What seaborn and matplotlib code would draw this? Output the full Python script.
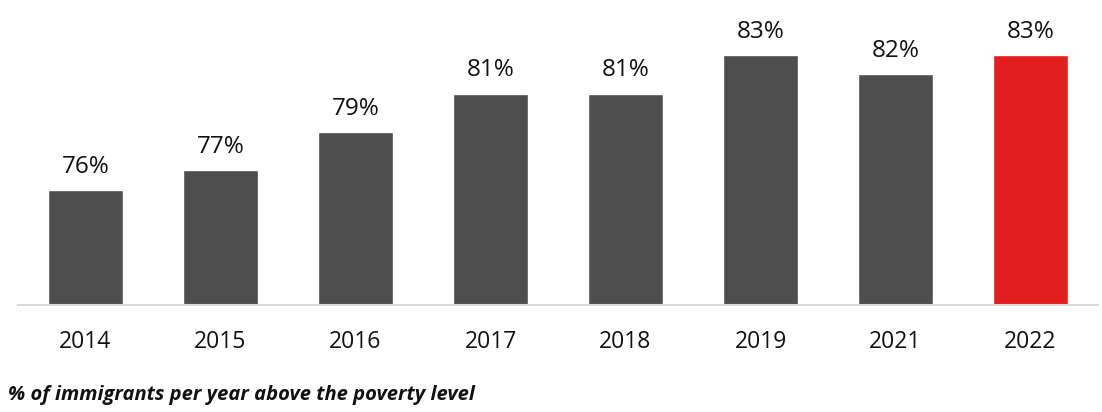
import matplotlib
matplotlib.use("Agg")
import matplotlib.pyplot as plt
import seaborn as sns
import pandas as pd

years = ["2014", "2015", "2016", "2017", "2018", "2019", "2021", "2022"]
values = [76, 77, 79, 81, 81, 83, 82, 83]
colors = ["#4d4d4d"] * 7 + ["#e31e1e"]
caption = "% of immigrants per year above the poverty level"

sns.set_theme(style="white")
plt.rcParams["font.family"] = ["Open Sans", "DejaVu Sans"]

df = pd.DataFrame({"year": years, "value": values})

fig = plt.figure(figsize=(11.02, 4.12), dpi=100)
ax = fig.add_axes([18 / 1102, 1 - 305 / 412, 1080 / 1102, 298 / 412])
sns.barplot(data=df, x="year", y="value", hue="year", palette=colors,
            legend=False, width=0.56, saturation=1, ax=ax)
ax.set_ylim(70, 85.5)
ax.set_xlim(-0.5, len(years) - 0.5)
for c in ax.containers:
    ax.bar_label(c, labels=[f"{v:.0f}%" for v in c.datavalues], padding=8,
                 fontsize=17.5, color="#111111")
for s in ["top", "right", "left"]:
    ax.spines[s].set_visible(False)
ax.spines["bottom"].set_color("#d9d9d9")
ax.spines["bottom"].set_linewidth(1.5)
ax.set_yticks([])
ax.set_xlabel("")
ax.set_ylabel("")
ax.tick_params(axis="x", length=0, pad=18, labelsize=16.5, labelcolor="#111111")
fig.text(8 / 1102, 1 - 395 / 412, caption, fontsize=14.5, fontweight="bold",
         fontstyle="italic", color="#111111", va="center", ha="left")
fig.savefig("out.png", dpi=100)
